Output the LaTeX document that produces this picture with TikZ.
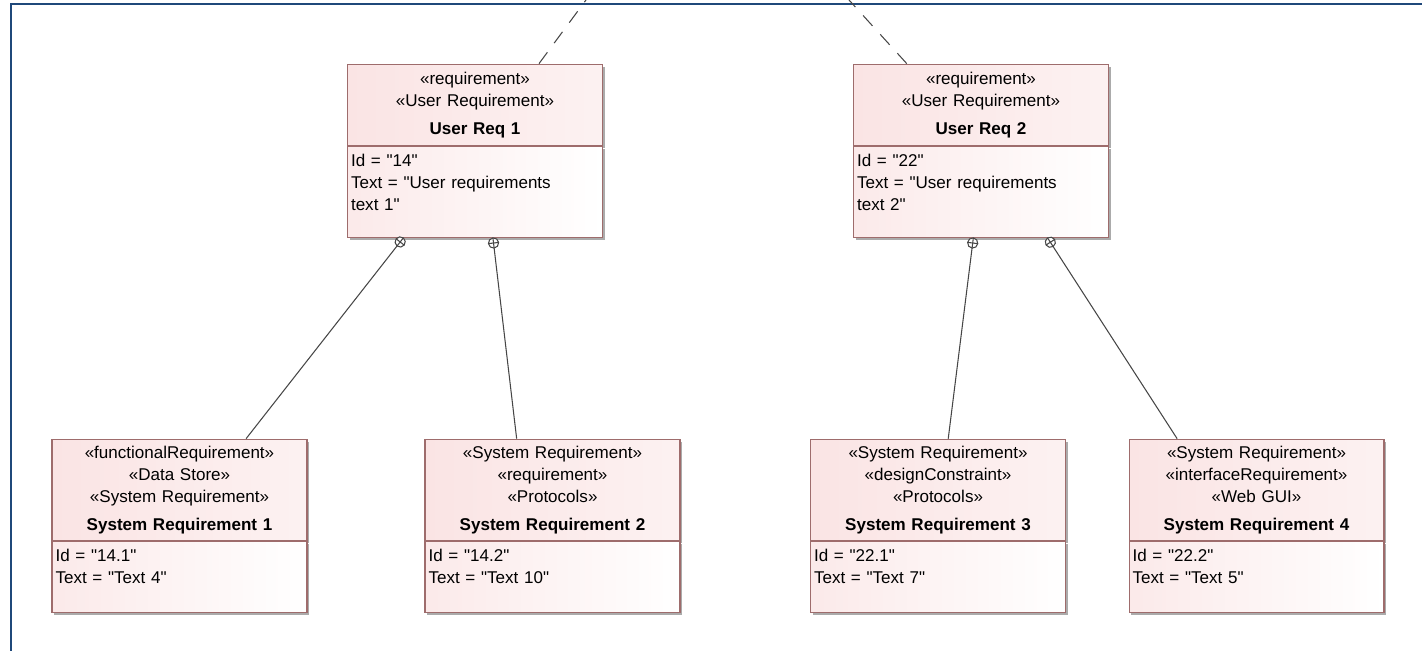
\documentclass[tikz,border=0pt]{standalone}
\usepackage{fontspec}
\setmainfont{Liberation Sans}[Ligatures=TeXOff]
\usepackage{tikz}
\usetikzlibrary{positioning, calc, shadows, decorations.markings}
\definecolor{reqpink}{RGB}{250,228,228}
\definecolor{reqborder}{RGB}{158,108,108}
\definecolor{linkgray}{RGB}{70,70,70}
\definecolor{frameblue}{RGB}{31,72,122}
\tikzstyle{reqhead} = [rectangle, draw=reqborder, line width=0.6pt, left color=reqpink, right color=reqpink!50!white, text width=4.96cm, inner xsep=2pt, align=center, font=\fontsize{9.7}{12.5}\selectfont, drop shadow={shadow xshift=1.4pt, shadow yshift=-1.4pt, fill=black!60, opacity=0.55}]
\tikzstyle{reqbody} = [reqhead, left color=reqpink!80!white, right color=white, align=left, inner ysep=4pt]
\tikzstyle{userhead} = [reqhead, minimum height=46.5pt]
\tikzstyle{syshead} = [reqhead, minimum height=57.8pt]
\tikzstyle{userbody} = [reqbody, text depth=36.5pt]
\tikzstyle{sysbody} = [reqbody, text depth=25.2pt]
\tikzstyle{contain} = [draw=linkgray, line width=0.6pt, postaction={decorate}, decoration={markings, mark=at position 2.9pt with {\draw[linkgray, fill=white] (0,0) circle (2.9pt); \draw[linkgray] (-2.9pt,0) -- (2.9pt,0) (0,-2.9pt) -- (0,2.9pt);}}]
\tikzstyle{trace} = [draw=linkgray, line width=0.6pt, dash pattern=on 8pt off 6.5pt]

\begin{document}
\begin{tikzpicture}[x=0.02cm, y=-0.02cm]
\useasboundingbox (0,0) rectangle (1422,651);

% Diagram frame
\draw[frameblue, line width=1.4pt] (11,651) -- (11,4) -- (1422,4);

% User requirements
\node (ur1) [userhead] at (475,105) {«requirement»\\«User Requirement»\\[3.5pt]\textbf{User Req 1}};
\node (ur1attr) [userbody, below=0pt of ur1] {Id = "14"\\Text = "User requirements\\text 1"};
\node (ur2) [userhead] at (981,105) {«requirement»\\«User Requirement»\\[3.5pt]\textbf{User Req 2}};
\node (ur2attr) [userbody, below=0pt of ur2] {Id = "22"\\Text = "User requirements\\text 2"};

% System requirements
\node (sr1) [syshead] at (179.5,490) {«functionalRequirement»\\«Data Store»\\«System Requirement»\\[3.5pt]\textbf{System Requirement 1}};
\node (sr1attr) [sysbody, below=0pt of sr1] {Id = "14.1"\\Text = "Text 4"};
\node (sr2) [syshead] at (552.5,490) {«System Requirement»\\«requirement»\\«Protocols»\\[3.5pt]\textbf{System Requirement 2}};
\node (sr2attr) [sysbody, below=0pt of sr2] {Id = "14.2"\\Text = "Text 10"};
\node (sr3) [syshead] at (938,490) {«System Requirement»\\«designConstraint»\\«Protocols»\\[3.5pt]\textbf{System Requirement 3}};
\node (sr3attr) [sysbody, below=0pt of sr3] {Id = "22.1"\\Text = "Text 7"};
\node (sr4) [syshead] at (1256.5,490) {«System Requirement»\\«interfaceRequirement»\\«Web GUI»\\[3.5pt]\textbf{System Requirement 4}};
\node (sr4attr) [sysbody, below=0pt of sr4] {Id = "22.2"\\Text = "Text 5"};

% Containment links
\draw[contain] ($(ur1attr.south west)!0.22!(ur1attr.south east)$) -- ($(sr1.north west)!0.76!(sr1.north east)$);
\draw[contain] ($(ur1attr.south west)!0.57!(ur1attr.south east)$) -- ($(sr2.north west)!0.36!(sr2.north east)$);
\draw[contain] ($(ur2attr.south west)!0.47!(ur2attr.south east)$) -- ($(sr3.north west)!0.54!(sr3.north east)$);
\draw[contain] ($(ur2attr.south west)!0.76!(ur2attr.south east)$) -- ($(sr4.north west)!0.19!(sr4.north east)$);

% Links to the parent, off the frame
\coordinate (up1) at (586,0);
\coordinate (up2) at (849,0);
\draw[trace] ($(ur1.north west)!0.75!(ur1.north east)$) -- (up1);
\draw[trace] ($(ur2.north west)!0.21!(ur2.north east)$) -- (up2);

\end{tikzpicture}
\end{document}
